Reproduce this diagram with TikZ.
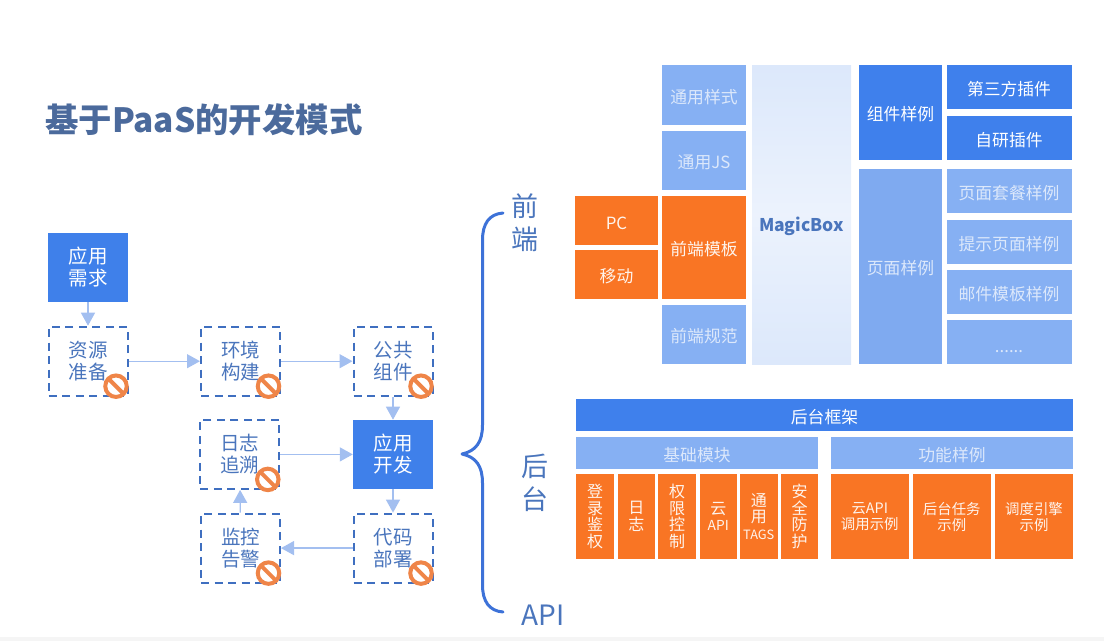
\documentclass[tikz,border=0pt]{standalone}
\usepackage{fontspec}
\setmainfont{Noto Sans CJK SC}
\newfontface\tagfont[Scale=0.8]{Noto Sans CJK SC}
\newfontface\apifont[Scale=0.86]{Noto Sans CJK SC}
\usetikzlibrary{positioning,arrows.meta}

\definecolor{flowblue}{HTML}{3F80EA}
\definecolor{dashblue}{HTML}{3F6FC0}
\definecolor{textblue}{HTML}{4A75BC}
\definecolor{arrowblue}{HTML}{A3BFF0}
\definecolor{signorange}{HTML}{EF8548}
\definecolor{blockorange}{HTML}{F97524}
\definecolor{blocklight}{HTML}{86B0F3}
\definecolor{blockdark}{HTML}{3F80EC}
\definecolor{blockmid}{HTML}{7FAAF0}
\definecolor{palewhite}{HTML}{DCE8FB}
\definecolor{bracketblue}{HTML}{3D72D8}
\definecolor{titleblue}{HTML}{4B6A9C}

\begin{document}
\lineskiplimit=-8pt
\begin{tikzpicture}[x=1pt,y=-1pt,
    flowsolid/.style={rectangle,fill=flowblue,text=white,inner sep=0pt,minimum width=80pt,minimum height=69pt,align=center,font=\fontsize{19.5}{22}\selectfont,execute at begin node={\rule{0pt}{1.16em}}},
    flowdash/.style={rectangle,draw=dashblue,line width=2pt,dash pattern=on 8pt off 5.5pt,text=textblue,inner sep=0pt,minimum width=79pt,minimum height=69pt,align=center,font=\fontsize{19.5}{22}\selectfont,execute at begin node={\rule{0pt}{1.16em}}},
    flowarrow/.style={draw=arrowblue,line width=1.3pt,-{Triangle[width=14pt,length=13pt,fill=arrowblue]}},
    nosign/.style={circle,draw=signorange,fill=white,line width=4pt,inner sep=0pt,minimum size=21.5pt,
        path picture={\draw[signorange,line width=4pt] (path picture bounding box.north west) -- (path picture bounding box.south east);}},
    blockbase/.style={rectangle,inner sep=0pt,align=center,font=\fontsize{16.8}{21}\selectfont,execute at begin node={\rule{0pt}{1.06em}}},
    orange/.style={blockbase,fill=blockorange,text=white!92!blockorange},
    light/.style={blockbase,fill=blocklight,text=palewhite},
    mid/.style={blockbase,fill=blockmid,text=palewhite},
    dark/.style={blockbase,fill=blockdark,text=white},
    narrowblock/.style={orange,font=\fontsize{16}{16.4}\selectfont,execute at begin node={\rule{0pt}{1.19em}}},
    wideblock/.style={orange,font=\fontsize{14.4}{16}\selectfont,execute at begin node={\rule{0pt}{1.34em}}},
    side/.style={text=textblue,inner sep=0pt,align=center,font=\fontsize{27}{33}\selectfont},
    node distance=24pt
    ]
    \def\moredots{\raisebox{-4pt}{......}}
    \useasboundingbox (0,0) rectangle (1104,641);
    \fill[black!4] (0,637) rectangle (1104,641);

    \node[text=titleblue,inner sep=0pt,anchor=west,font=\fontsize{33.4}{36}\bfseries\selectfont] (title) at (45,120) {基于PaaS的开发模式};

    % left flow
    \node[flowsolid] (need) at (88,267.5) {应用\\需求};
    \node[flowdash, below=23.5pt of need] (res) {资源\\准备};
    \node[flowdash, right=71.5pt of res] (env) {环境\\构建};
    \node[flowdash, right=71.5pt of env] (pub) {公共\\组件};
    \node[flowsolid, below=23pt of pub] (dev) {应用\\开发};
    \node[flowdash, below=23.5pt of dev] (deploy) {代码\\部署};
    \node[flowdash, left=72.5pt of dev] (log) {日志\\追溯};
    \node[flowdash, left=71.5pt of deploy] (mon) {监控\\告警};

    \path[flowarrow] (need) edge (res)
    (res) edge (env)
    (env) edge (pub)
    (pub) edge (dev)
    (log) edge (dev)
    (dev) edge (deploy)
    (deploy) edge (mon)
    (mon) edge (log);

    \foreach \nm in {res,env,pub,log,mon,deploy} {
        \node[nosign] (no\nm) at ([shift={(-12.5,-10.5)}]\nm.south east) {};
    }

    % bracket and its labels
    \draw[bracketblue,line width=3pt,line cap=round,line join=round]
    (503,213) .. controls (489,214) and (482.5,224) .. (482.5,240)
    -- (482.5,425) .. controls (482.5,442) and (476,451) .. (462,454)
    .. controls (476,457) and (482.5,466) .. (482.5,483)
    -- (482.5,585) .. controls (482.5,601) and (489,611) .. (503,612);

    \node[side] (front) at (525,223) {前\\端};
    \node[side] (back) at (535,483) {后\\台};
    \node[side,font=\fontsize{28}{33}\selectfont] (api) at (543,615) {API};

    % right blocks: kind/name/left/top/right/bottom/text
    \foreach \kind/\nm/\xa/\ya/\xb/\yb/\txt in {
        light/common/662/65/746/125/通用样式,
        light/js/662/131/746/190/通用JS,
        orange/tpl/662/196/746/299/前端模板,
        light/spec/662/305/746/364/前端规范,
        orange/pc/575/196/658/245/PC,
        orange/mobile/575/250/658/299/移动,
        dark/comp/859/65/942/160/组件样例,
        dark/third/946.5/65/1071.5/109/第三方插件,
        dark/own/946.5/116/1071.5/160/自研插件,
        mid/page/859/169/942/364/页面样例,
        light/suite/946.5/169/1071.5/213/页面套餐样例,
        light/hint/946.5/220/1071.5/264/提示页面样例,
        light/mail/946.5/270/1071.5/314/邮件模板样例,
        light/more/946.5/320/1071.5/364/\moredots,
        dark/frame/576/399/1073/431/后台框架,
        light/base/576/437/818/469/基础模块,
        light/func/831/437/1073/469/功能样例,
        narrowblock/login/576/474/614/559/登\\录\\鉴\\权,
        narrowblock/logs/617.5/474/655/559/日\\志,
        narrowblock/perm/658/474/696/559/权\\限\\控\\制,
        narrowblock/cloud/699.5/474/737/559/云\\\apifont API,
        narrowblock/tags/740/474/777.5/559/通\\用\\\tagfont TAGS,
        narrowblock/safe/781/474/818/559/安\\全\\防\\护,
        wideblock/callapi/831/474/908.5/559/云API\\调用示例,
        wideblock/task/912.5/474/991/559/后台任务\\示例,
        wideblock/sched/995/474/1073/559/调度引擎\\示例} {
        \node[\kind,minimum width={(\xb-\xa)*1pt},minimum height={(\yb-\ya)*1pt}] (\nm) at ({(\xa+\xb)/2},{(\ya+\yb)/2}) {\txt};
    }

    \node[rectangle,top color=palewhite,bottom color=palewhite,middle color=palewhite!55!white,inner sep=0pt,minimum width=99pt,minimum height=299pt,text=textblue,font=\fontsize{17.5}{20}\bfseries\selectfont] (magic) at (801.5,214.5) {\raisebox{-16.5pt}[0pt][0pt]{MagicBox}};
\end{tikzpicture}
\end{document}
